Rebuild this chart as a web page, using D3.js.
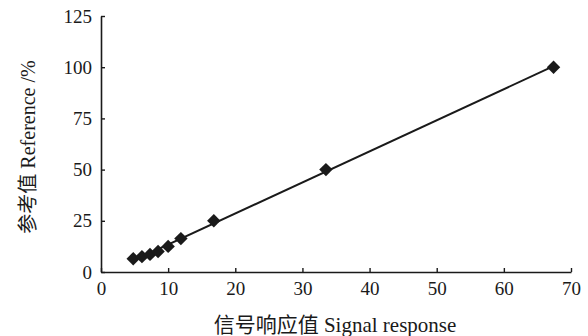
<!DOCTYPE html>
<html>
<head>
<meta charset="utf-8">
<script src="https://cdn.jsdelivr.net/npm/d3@7"></script>
<style>
  html, body { margin: 0; padding: 0; background: #fff; }
  svg { display: block; }
  text { fill: #1a1a1a; }
</style>
</head>
<body>
<svg id="chart" width="588" height="336"></svg>
<script>
// Data
const signalResponse = [4.8, 6.1, 7.3, 8.5, 10.0, 11.9, 16.8, 33.5, 67.4];
const referenceValue = [6.5, 7.5, 8.6, 10.0, 12.5, 16.3, 25, 50, 100];
const xTicks = [0, 10, 20, 30, 40, 50, 60, 70];
const yTicks = [0, 25, 50, 75, 100, 125];
const xTitle = "信号响应值 Signal response";
const yTitle = "参考值 Reference /%";

const W = 588, H = 336;
const margin = { left: 101, right: 17, top: 16, bottom: 64 };
const ink = "#1a1a1a";
const fontFam = "'Liberation Serif', 'Times New Roman', 'Noto Sans CJK SC', serif";

const svg = d3.select("#chart");
const x = d3.scaleLinear().domain([0, 70]).range([margin.left, W - margin.right]);
const y = d3.scaleLinear().domain([0, 125]).range([H - margin.bottom, margin.top]);

// Least-squares fit line derived from the data
const n = signalResponse.length;
const mx = d3.mean(signalResponse), my = d3.mean(referenceValue);
let sxy = 0, sxx = 0;
for (let i = 0; i < n; i++) {
  sxy += (signalResponse[i] - mx) * (referenceValue[i] - my);
  sxx += (signalResponse[i] - mx) ** 2;
}
const slope = sxy / sxx, intercept = my - slope * mx;
const xMin = d3.min(signalResponse), xMax = d3.max(signalResponse);
const fitPts = [xMin, xMax].map(v => [v, slope * v + intercept]);

// Axes
const xAxis = d3.axisBottom(x).tickValues(xTicks).tickSizeInner(-4).tickSizeOuter(0).tickPadding(10);
const yAxis = d3.axisLeft(y).tickValues(yTicks).tickSizeInner(-4).tickSizeOuter(0).tickPadding(9);

const gx = svg.append("g").attr("transform", `translate(0,${H - margin.bottom})`).call(xAxis);
const gy = svg.append("g").attr("transform", `translate(${margin.left},0)`).call(yAxis);

[gx, gy].forEach(g => {
  g.select(".domain").attr("stroke", ink).attr("stroke-width", 1.6);
  g.selectAll(".tick line").attr("stroke", ink).attr("stroke-width", 1.4);
  g.selectAll(".tick text")
    .attr("fill", ink)
    .style("font-family", fontFam)
    .style("font-size", "19px");
});
gx.selectAll(".tick text").attr("dy", "0.71em");

// Fit line
svg.append("path")
  .datum(fitPts)
  .attr("fill", "none")
  .attr("stroke", ink)
  .attr("stroke-width", 2)
  .attr("d", d3.line().x(d => x(d[0])).y(d => y(d[1])));

// Diamond markers
const sym = d3.symbol().type(d3.symbolDiamond2).size(115);
svg.append("g").selectAll("path")
  .data(signalResponse.map((v, i) => [v, referenceValue[i]]))
  .join("path")
  .attr("transform", d => `translate(${x(d[0])},${y(d[1])})`)
  .attr("d", sym)
  .attr("fill", ink);

// Axis titles
svg.append("text")
  .attr("x", 335)
  .attr("y", 332)
  .attr("text-anchor", "middle")
  .style("font-family", fontFam)
  .style("font-size", "21px")
  .text(xTitle);

svg.append("text")
  .attr("transform", `translate(35,147) rotate(-90)`)
  .attr("text-anchor", "middle")
  .style("font-family", fontFam)
  .style("font-size", "20px")
  .text(yTitle);
</script>
</body>
</html>
